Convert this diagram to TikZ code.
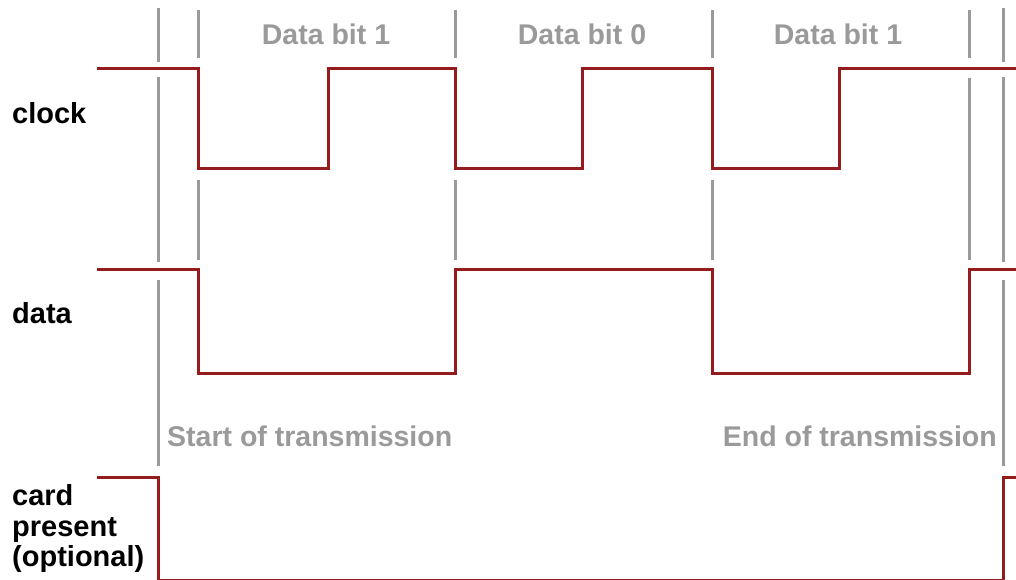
\documentclass[tikz,border=0pt]{standalone}
\usepackage{fontspec}
\setmainfont{Liberation Sans}
\begin{document}
\begin{tikzpicture}[x=1pt,y=-1pt,
  wave/.style={draw=sigred,line width=3pt,line join=miter},
  tick/.style={draw=tickgray,line width=3pt},
  lbl/.style={font=\fontsize{29}{32}\selectfont\bfseries,text=black,inner sep=0pt},
  glbl/.style={font=\fontsize{28.5}{31}\selectfont\bfseries,text=tickgray,inner sep=0pt}]
\definecolor{sigred}{HTML}{951C1C}
\definecolor{tickgray}{HTML}{9A9A9A}
\useasboundingbox (0,0) rectangle (1016,579);
\fill[white] (0,0) rectangle (1016,579);
% gray time markers
\foreach \x in {158,1003}{
  \draw[tick] (\x,8) -- (\x,62);
  \draw[tick] (\x,77) -- (\x,262);
  \draw[tick] (\x,280) -- (\x,466);
}
\foreach \x in {198,455,712}{
  \draw[tick] (\x,10) -- (\x,58);
  \draw[tick] (\x,180) -- (\x,260);
}
\draw[tick] (969,10) -- (969,58);
\draw[tick] (969,78) -- (969,260);
% clock
\draw[wave] (97,68) -- (198,68) -- (198,168) -- (328,168) -- (328,68) -- (455,68)
  -- (455,168) -- (582,168) -- (582,68) -- (712,68) -- (712,168) -- (839,168)
  -- (839,68) -- (1018,68);
% data
\draw[wave] (97,269) -- (198,269) -- (198,373) -- (455,373) -- (455,269) -- (712,269)
  -- (712,373) -- (969,373) -- (969,269) -- (1018,269);
% card present
\draw[wave] (97,477) -- (158,477) -- (158,580.5) -- (1003,580.5) -- (1003,477) -- (1018,477);
% labels
\node[lbl,anchor=base west] (clk) at (12,123) {clock};
\node[lbl,anchor=base west] (dat) at (12,323) {data};
\node[lbl,anchor=base west] (cp1) at (12,505) {card};
\node[lbl,anchor=base west] (cp2) at (12,536) {present};
\node[lbl,anchor=base west] (cp3) at (12,566) {(optional)};
\node[glbl,anchor=base] (b1) at (326,44) {Data bit 1};
\node[glbl,anchor=base] (b0) at (582,44) {Data bit 0};
\node[glbl,anchor=base] (b2) at (838,44) {Data bit 1};
\node[glbl,anchor=base west] (st) at (167,446) {Start of transmission};
\node[glbl,anchor=base east] (en) at (997,446) {End of transmission};
\end{tikzpicture}
\end{document}
